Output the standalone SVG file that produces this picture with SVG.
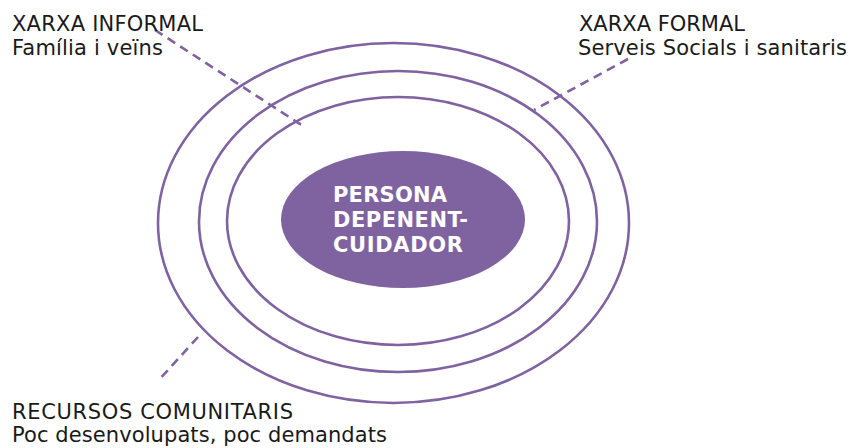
<svg xmlns="http://www.w3.org/2000/svg" width="851" height="448" viewBox="0 0 851 448">
  <style>
    .ring { fill: none; stroke: #7f62a0; stroke-width: 2.6; }
    .core { fill: #7f62a0; }
    .dash { fill: none; stroke: #7f62a0; stroke-width: 2.6; stroke-dasharray: 9 6; }
    .label { font-family: "DejaVu Sans", Verdana, sans-serif; font-size: 21px; fill: #1a1a1a; }
    .core-label { font-family: "DejaVu Sans", Verdana, sans-serif; font-size: 21px; font-weight: bold; fill: #ffffff; }
  </style>
  <rect width="851" height="448" fill="#ffffff"/>

  <!-- leader lines from each network ring to its label -->
  <g id="connectors">
    <line class="dash" x1="155" y1="30" x2="303" y2="126"/>
    <line class="dash" x1="628" y1="59" x2="534" y2="110"/>
    <line class="dash" x1="198" y1="337" x2="158" y2="381"/>
  </g>

  <!-- concentric support rings -->
  <g id="ring-outer">
    <ellipse class="ring" cx="393.5" cy="223" rx="235.5" ry="180"/>
  </g>
  <g id="ring-middle">
    <ellipse class="ring" cx="398" cy="221.5" rx="199" ry="150.5"/>
  </g>
  <g id="ring-inner">
    <ellipse class="ring" cx="398" cy="221" rx="171" ry="124"/>
  </g>

  <!-- central person -->
  <g id="persona">
    <ellipse class="core" cx="403" cy="219.5" rx="122" ry="68.5"/>
    <text class="core-label" x="333" y="202" textLength="114">PERSONA</text>
    <text class="core-label" x="333" y="227" textLength="135">DEPENENT-</text>
    <text class="core-label" x="333" y="252" textLength="130">CUIDADOR</text>
  </g>

  <g id="xarxa-informal">
    <text class="label" x="12" y="31" textLength="191">XARXA INFORMAL</text>
    <text class="label" x="12" y="55" textLength="151">Família i veïns</text>
  </g>

  <g id="xarxa-formal">
    <text class="label" x="579" y="31" textLength="166">XARXA FORMAL</text>
    <text class="label" x="578" y="55" textLength="269">Serveis Socials i sanitaris</text>
  </g>

  <g id="recursos-comunitaris">
    <text class="label" x="12" y="419" textLength="281">RECURSOS COMUNITARIS</text>
    <text class="label" x="12" y="442" textLength="375">Poc desenvolupats, poc demandats</text>
  </g>
</svg>
